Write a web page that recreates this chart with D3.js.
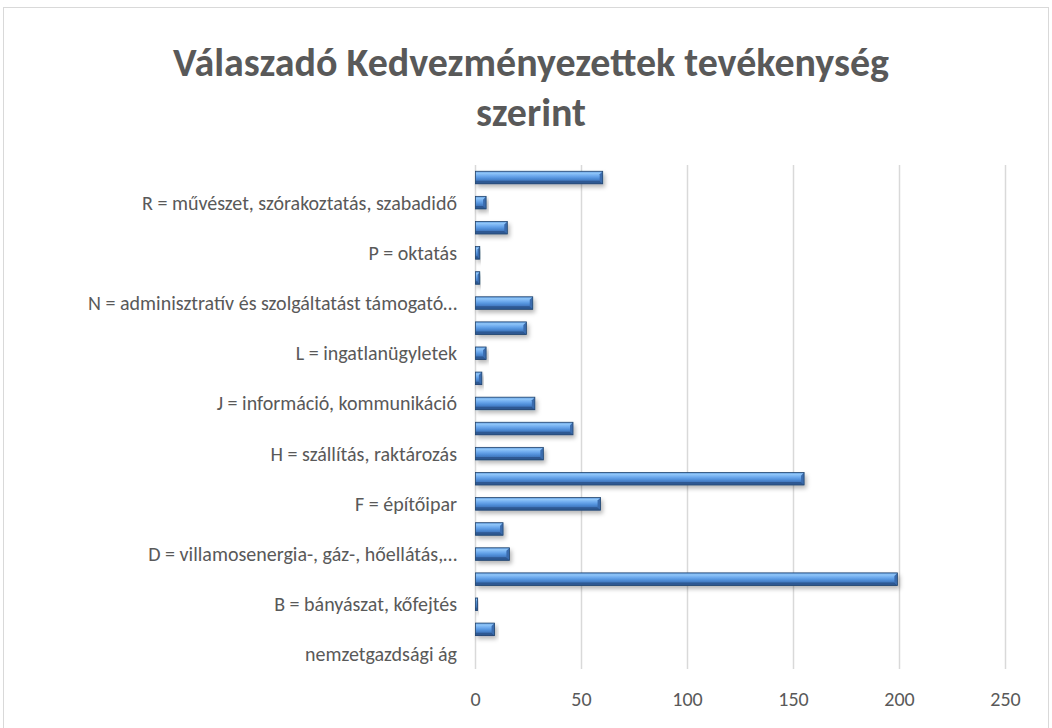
<!DOCTYPE html>
<html>
<head>
<meta charset="utf-8">
<script src="https://cdn.jsdelivr.net/npm/d3@7"></script>
<style>
  body { margin: 0; background: #fff; }
  svg { display: block; }
</style>
</head>
<body>
<div id="chart"></div>
<script>
// chart data, bottom category first
const categories = [
    "nemzetgazdsági ág",
    "A = mezőgazdaság, erdőgazdálkodás, halászat",
    "B = bányászat, kőfejtés",
    "C = feldolgozóipar",
    "D = villamosenergia-, gáz-, hőellátás,…",
    "E = vízellátás, szennyvíz, hulladékgazdálkodás",
    "F = építőipar",
    "G = kereskedelem, gépjárműjavítás",
    "H = szállítás, raktározás",
    "I = szálláshely-szolgáltatás, vendéglátás",
    "J = információ, kommunikáció",
    "K = pénzügyi, biztosítási tevékenység",
    "L = ingatlanügyletek",
    "M = szakmai, tudományos, műszaki tevékenység",
    "N = adminisztratív és szolgáltatást támogató…",
    "O = közigazgatás, védelem, társadalombiztosítás",
    "P = oktatás",
    "Q = humán-egészségügyi, szociális ellátás",
    "R = művészet, szórakoztatás, szabadidő",
    "S = egyéb szolgáltatás"
];
const values = [0, 9, 1, 199, 16, 13, 59, 155, 32, 46, 28, 3, 5, 24, 27, 2, 2, 15, 5, 60];
const xTicks = [0, 50, 100, 150, 200, 250];
const titleLines = ["Válaszadó Kedvezményezettek tevékenység", "szerint"];

const W = 1052, H = 728;
const fontFam = "Carlito, Calibri, 'Liberation Sans Narrow', 'Open Sans', sans-serif";
const grey = "#595959";

const svg = d3.select("#chart").append("svg")
    .attr("width", W)
    .attr("height", H);

// chart frame (bottom edge falls outside the picture)
svg.append("rect")
    .attr("x", 3.5).attr("y", 7.5)
    .attr("width", W - 7).attr("height", H + 10)
    .attr("fill", "#fff")
    .attr("stroke", "#d9d9d9");

const defs = svg.append("defs");
const grad = defs.append("linearGradient")
    .attr("id", "barGrad")
    .attr("x1", 0).attr("y1", 0).attr("x2", 0).attr("y2", 1);
[[0, "#5c98de"], [0.15, "#90c6f8"], [0.35, "#70acef"], [0.55, "#5392dc"], [0.8, "#3d72b8"], [1, "#2b518a"]]
    .forEach(s => grad.append("stop").attr("offset", s[0]).attr("stop-color", s[1]));

const shadow = defs.append("filter")
    .attr("id", "shadow")
    .attr("x", "-10%").attr("y", "-50%")
    .attr("width", "130%").attr("height", "250%");
shadow.append("feDropShadow")
    .attr("dx", 2).attr("dy", 3)
    .attr("stdDeviation", 2)
    .attr("flood-color", "#000")
    .attr("flood-opacity", 0.28);

// fit a font size so a string reaches the wanted width
function fitSize(text, weight, target, start) {
    const t = svg.append("text")
        .attr("font-family", fontFam)
        .attr("font-weight", weight)
        .attr("font-size", start)
        .text(text);
    const w = t.node().getComputedTextLength();
    t.remove();
    return start * target / w;
}

const titleSize = Math.min(40, fitSize(titleLines[0], "bold", 762, 36));
const labelSize = Math.min(20, fitSize("R = művészet, szórakoztatás, szabadidő", "normal", 396, 18));

const title = svg.append("text")
    .attr("text-anchor", "middle")
    .attr("font-family", fontFam)
    .attr("font-weight", "bold")
    .attr("font-size", titleSize)
    .attr("fill", grey);
titleLines.forEach((l, i) => {
    title.append("tspan")
        .attr("x", 531)
        .attr("y", 76 + i * 50)
        .text(l);
});

const plot = { left: 475.5, right: 1005.5, top: 165, bottom: 667 };

const x = d3.scaleLinear()
    .domain([xTicks[0], xTicks[xTicks.length - 1]])
    .range([plot.left, plot.right]);

const y = d3.scaleBand()
    .domain(categories)
    .range([plot.bottom, plot.top])
    .paddingInner(0.5)
    .paddingOuter(0.25);

// gridlines
svg.append("g")
    .selectAll("line")
    .data(xTicks)
    .join("line")
    .attr("x1", d => x(d)).attr("x2", d => x(d))
    .attr("y1", plot.top).attr("y2", plot.bottom + 2)
    .attr("stroke", "#d9d9d9")
    .attr("stroke-width", 1.5);

// x tick labels
svg.append("g")
    .selectAll("text")
    .data(xTicks)
    .join("text")
    .attr("x", d => x(d))
    .attr("y", 706)
    .attr("text-anchor", "middle")
    .attr("font-family", fontFam)
    .attr("font-size", labelSize)
    .attr("fill", grey)
    .text(d => d);

// category labels, every other one like the original
svg.append("g")
    .selectAll("text")
    .data(categories.filter((c, i) => i % 2 === 0))
    .join("text")
    .attr("x", 457)
    .attr("y", d => y(d) + y.bandwidth() / 2)
    .attr("dy", "0.35em")
    .attr("text-anchor", "end")
    .attr("font-family", fontFam)
    .attr("font-size", labelSize)
    .attr("fill", grey)
    .text(d => d);

// bars with bevel
const bars = svg.append("g")
    .selectAll("g")
    .data(categories.map((c, i) => ({ c, v: values[i] })).filter(d => d.v > 0))
    .join("g")
    .attr("filter", "url(#shadow)");

const bev = 3;
bars.append("rect")
    .attr("x", x(0))
    .attr("y", d => y(d.c))
    .attr("width", d => x(d.v) - x(0))
    .attr("height", y.bandwidth())
    .attr("fill", "url(#barGrad)");

// bottom bevel (dark)
bars.append("polygon")
    .attr("points", d => {
        const x0 = x(0), x1 = x(d.v), y1 = y(d.c) + y.bandwidth();
        const b = Math.min(bev, (x1 - x0) / 2);
        return [[x0, y1], [x1, y1], [x1 - b, y1 - bev], [x0, y1 - bev]].join(" ");
    })
    .attr("fill", "#2d5892");
// right end bevel
bars.append("polygon")
    .attr("points", d => {
        const x0 = x(0), x1 = x(d.v), y0 = y(d.c), y1 = y0 + y.bandwidth();
        const b = Math.min(bev, (x1 - x0) / 2);
        return [[x1, y0], [x1, y1], [x1 - b, y1 - bev], [x1 - b, y0 + bev]].join(" ");
    })
    .attr("fill", "#3a6cae");
// outline
bars.append("rect")
    .attr("x", x(0))
    .attr("y", d => y(d.c))
    .attr("width", d => x(d.v) - x(0))
    .attr("height", y.bandwidth())
    .attr("fill", "none")
    .attr("stroke", "#23466f")
    .attr("stroke-width", 0.8);
</script>
</body>
</html>
